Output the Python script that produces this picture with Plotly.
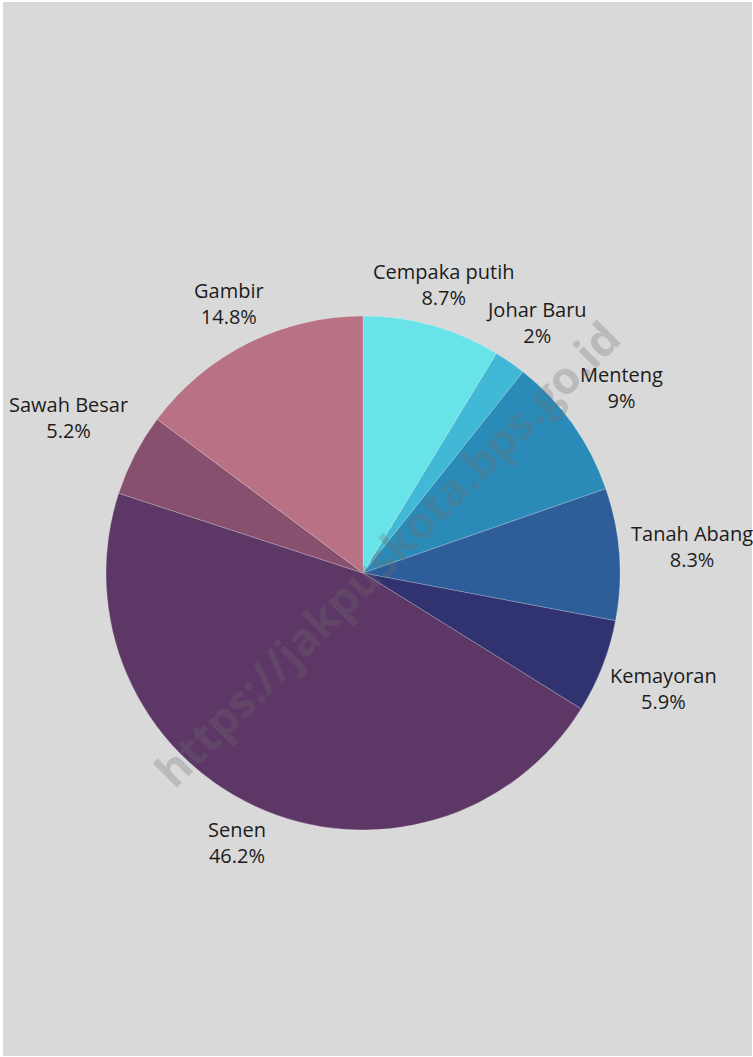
import math
import plotly.graph_objects as go

labels = ["Cempaka putih", "Johar Baru", "Menteng", "Tanah Abang", "Kemayoran", "Senen", "Sawah Besar", "Gambir"]
values = [8.7, 2, 9, 8.3, 5.9, 46.2, 5.2, 14.8]
colors = ["#68e4e9", "#40b8d6", "#2b8bb8", "#2d5e99", "#30336f", "#5d3766", "#87506f", "#b87283"]

W, H = 753, 1057
L, R, T, B = 106, 133, 316, 227
PW, PH = W - L - R, H - T - B
CX, CY, RAD = L + PW / 2, T + PH / 2, min(PW, PH) / 2

fig = go.Figure(go.Pie(
    labels=labels,
    values=values,
    sort=False,
    direction="clockwise",
    marker=dict(colors=colors, line=dict(color="rgba(255,255,255,0.35)", width=0.6)),
    textinfo="none",
    hoverinfo="label+value",
    showlegend=False,
))

def px_x(x):
    return (x - L) / PW

def px_y(y):
    return 1 - (y - T) / PH

# outside labels, placed radially at each slice's mid-angle
annotations = []
total = sum(values)
cum = 0.0
for lab, v in zip(labels, values):
    mid = (cum + v / 2) / total * 2 * math.pi
    cum += v
    s, c = math.sin(mid), math.cos(mid)
    pct = f"{v:g}%"
    hw = 11 * max(len(lab), len(pct)) / 2 + 4
    hh = 31
    d = min(hw / abs(s) if abs(s) > 1e-6 else 1e9, hh / abs(c) if abs(c) > 1e-6 else 1e9)
    dist = RAD + 8 + d
    x = CX + dist * s
    y = CY - dist * c
    annotations.append(dict(text=f"{lab}<br>{pct}", xref="paper", yref="paper",
                            x=px_x(x), y=px_y(y), xanchor="center", yanchor="middle",
                            align="center", showarrow=False, yshift=2,
                            font=dict(family="Open Sans", size=20, color="#1c1c1c")))

annotations.append(dict(text="<b>https://jakpuskota.bps.go.id</b>", xref="paper", yref="paper",
                        x=px_x(386), y=px_y(553), showarrow=False, textangle=-45,
                        font=dict(family="Open Sans", size=45, color="rgba(110,110,110,0.3)")))

fig.update_layout(
    width=W, height=H,
    margin=dict(l=L, r=R, t=T, b=B),
    paper_bgcolor="#ffffff",
    plot_bgcolor="#d9d9d9",
    font=dict(family="Open Sans"),
    shapes=[dict(type="rect", xref="paper", yref="paper", layer="below",
                 x0=px_x(3), x1=px_x(752), y0=px_y(1056), y1=px_y(2),
                 fillcolor="#d9d9d9", line=dict(width=0))],
    annotations=annotations,
)

fig.write_html("out.html", config={"displayModeBar": False},
               post_script="document.body.style.margin='0';document.body.style.overflow='hidden';")
